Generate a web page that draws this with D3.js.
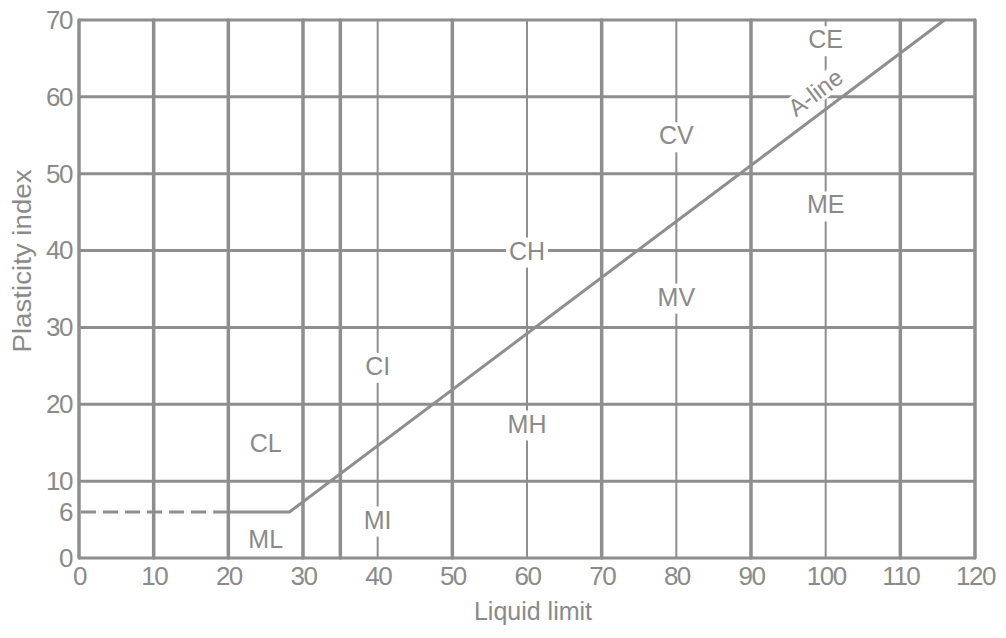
<!DOCTYPE html>
<html>
<head>
<meta charset="utf-8">
<script src="https://cdn.jsdelivr.net/npm/d3@7"></script>
<style>
  body { margin: 0; background: #fff; }
  svg text { font-family: "Liberation Sans", Arial, sans-serif; }
</style>
</head>
<body>
<script>
  // plasticity chart data
  var xTicks = [0, 10, 20, 30, 40, 50, 60, 70, 80, 90, 100, 110, 120];
  var yTicks = [0, 6, 10, 20, 30, 40, 50, 60, 70];
  var xGridMain = [0, 10, 20, 30, 35, 50, 70, 90, 110, 120];
  var xGridDivide = [40, 60, 80, 100];
  var yGrid = [0, 10, 20, 30, 40, 50, 60, 70];

  var zoneNames = ["CL", "ML", "CI", "MI", "CH", "MH", "CV", "MV", "CE", "ME"];
  var zoneLL = [25, 25, 40, 40, 60, 60, 80, 80, 100, 100];
  var zonePI = [15, 2.5, 25, 5, 40, 17.5, 55, 34, 67.5, 46];

  var dashLL = [0, 18];
  var dashPI = [6, 6];
  var aLineLL = [18, 28.2, 115.9];
  var aLinePI = [6, 6, 70];
  var aLabelLL = 98.6, aLabelPI = 60.6;

  var W = 1006, H = 638;
  var x = d3.scaleLinear().domain([0, 120]).range([79, 975]);
  var y = d3.scaleLinear().domain([0, 70]).range([558, 20]);
  var grey = "#8e8e8e", textGrey = "#8a8a8a";

  var svg = d3.select("body").append("svg")
    .attr("width", W).attr("height", H);

  // horizontal grid
  svg.append("g").selectAll("line").data(yGrid).enter().append("line")
    .attr("x1", x(0)).attr("x2", x(120))
    .attr("y1", function(d) { return y(d); })
    .attr("y2", function(d) { return y(d); })
    .attr("stroke", grey).attr("stroke-width", 3);

  // vertical grid
  svg.append("g").selectAll("line").data(xGridMain).enter().append("line")
    .attr("x1", function(d) { return x(d); })
    .attr("x2", function(d) { return x(d); })
    .attr("y1", y(0)).attr("y2", y(70))
    .attr("stroke", grey).attr("stroke-width", 3.5)
    .attr("stroke-linecap", "round");

  svg.append("g").selectAll("line").data(xGridDivide).enter().append("line")
    .attr("x1", function(d) { return x(d); })
    .attr("x2", function(d) { return x(d); })
    .attr("y1", y(0)).attr("y2", y(70))
    .attr("stroke", grey).attr("stroke-width", 2);

  // zone labels on white boxes that break the grid lines
  var zones = svg.append("g").selectAll("g").data(zoneNames).enter().append("g")
    .attr("transform", function(d, i) { return "translate(" + x(zoneLL[i]) + "," + y(zonePI[i]) + ")"; });
  var boxes = zones.append("rect").attr("fill", "#fff");
  zones.append("text")
    .attr("dy", "0.36em")
    .attr("text-anchor", "middle")
    .attr("font-size", 25)
    .attr("fill", textGrey)
    .text(function(d) { return d; });
  boxes.each(function() {
    var t = this.parentNode.querySelector("text").getBBox();
    d3.select(this)
      .attr("x", t.x - 3).attr("width", t.width + 6)
      .attr("y", t.y + 1).attr("height", t.height + 2);
  });

  // A-line label, rotated along the line
  var ang = Math.atan2(y(70) - y(6), x(115.9) - x(28.2)) * 180 / Math.PI;
  var aLab = svg.append("g")
    .attr("transform", "translate(" + x(aLabelLL) + "," + y(aLabelPI) + ") rotate(" + ang + ")");
  var aBox = aLab.append("rect").attr("fill", "#fff");
  var aText = aLab.append("text")
    .attr("dy", "0.36em")
    .attr("text-anchor", "middle")
    .attr("font-size", 24)
    .attr("fill", textGrey)
    .text("A-line");
  var ab = aText.node().getBBox();
  aBox.attr("x", ab.x - 2).attr("width", ab.width + 4)
    .attr("y", ab.y + 2).attr("height", ab.height - 4);

  // A-line
  var line = d3.line()
    .x(function(d) { return x(d[0]); })
    .y(function(d) { return y(d[1]); });

  svg.append("path")
    .datum(aLineLL.map(function(d, i) { return [d, aLinePI[i]]; }))
    .attr("d", line)
    .attr("fill", "none").attr("stroke", grey).attr("stroke-width", 3);

  svg.append("path")
    .datum(dashLL.map(function(d, i) { return [d, dashPI[i]]; }))
    .attr("d", line)
    .attr("fill", "none").attr("stroke", grey).attr("stroke-width", 3)
    .attr("stroke-dasharray", "15,7")
    .attr("stroke-dashoffset", -2);

  // axes (labels only)
  var xAxis = svg.append("g")
    .attr("transform", "translate(0," + y(0) + ")")
    .call(d3.axisBottom(x).tickValues(xTicks).tickSize(0).tickPadding(9));
  var yAxis = svg.append("g")
    .attr("transform", "translate(" + x(0) + ",0)")
    .call(d3.axisLeft(y).tickValues(yTicks).tickSize(0).tickPadding(7));

  [xAxis, yAxis].forEach(function(a) {
    a.select(".domain").remove();
    a.selectAll("text")
      .attr("fill", textGrey)
      .style("font-size", "26px")
      .style("letter-spacing", "-1.5px")
      .style("font-family", "\"Liberation Sans\", Arial, sans-serif");
  });

  // axis titles
  svg.append("text")
    .attr("x", 533).attr("y", 620)
    .attr("text-anchor", "middle")
    .attr("fill", textGrey)
    .attr("font-size", 25)
    .text("Liquid limit");

  svg.append("text")
    .attr("transform", "translate(31,261) rotate(-90)")
    .attr("text-anchor", "middle")
    .attr("textLength", 183)
    .attr("lengthAdjust", "spacingAndGlyphs")
    .attr("fill", textGrey)
    .attr("font-size", 25)
    .text("Plasticity index");
</script>
</body>
</html>
